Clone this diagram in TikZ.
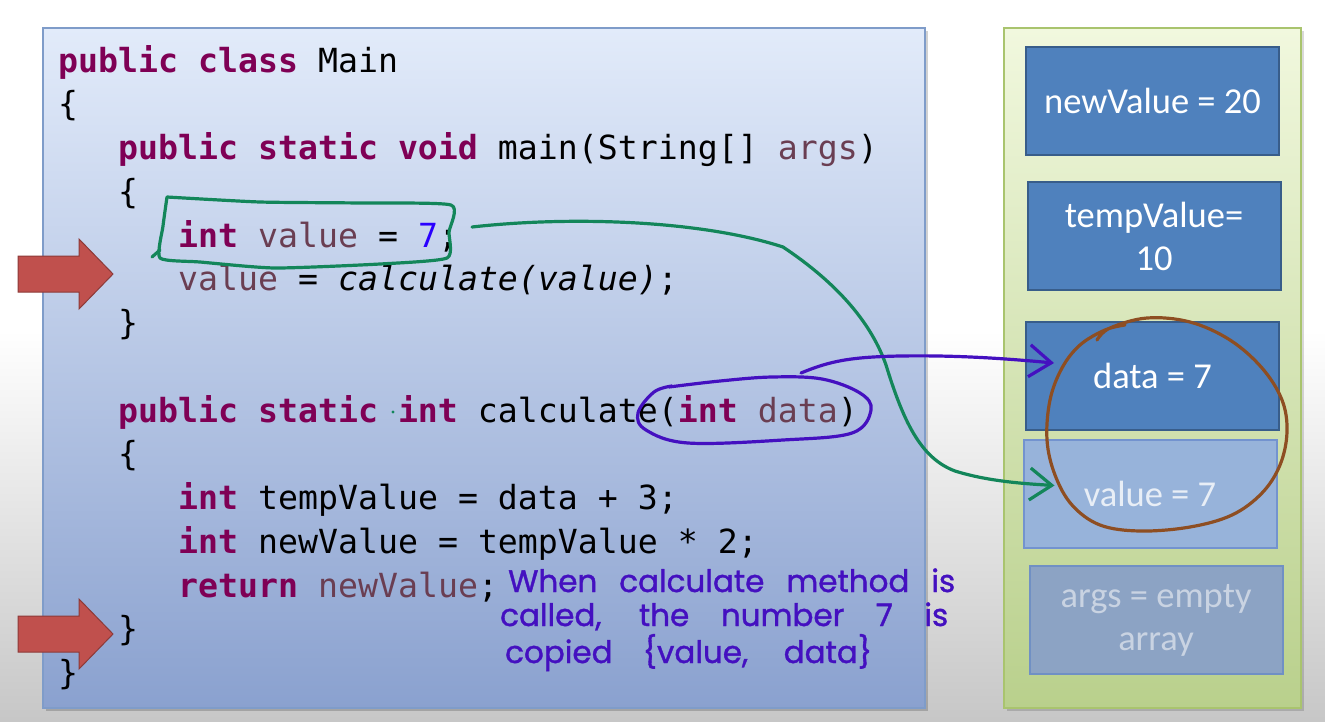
\documentclass[tikz,border=0pt]{standalone}
\usepackage{fontspec}
\setmonofont{DejaVu Sans Mono}
\newfontfamily\boxfont{Carlito}
\newfontfamily\handfont[FakeBold=1.2]{Poppins}
\usetikzlibrary{arrows.meta,calc}

\definecolor{kwc}{HTML}{7F0055}
\definecolor{varc}{HTML}{6A3E52}
\definecolor{numc}{HTML}{2A00FF}
\definecolor{penGreen}{HTML}{13865A}
\definecolor{penPurple}{HTML}{4410C0}
\definecolor{penBrown}{HTML}{8E4E22}
\definecolor{blockRed}{HTML}{C0504D}
\definecolor{blockRedEdge}{HTML}{8C3A38}
\definecolor{panelTop}{HTML}{E2EBFA}
\definecolor{panelMid}{HTML}{BDCEF0}
\definecolor{panelBot}{HTML}{8AA1CF}
\definecolor{panelEdge}{HTML}{7F9CC9}
\definecolor{stackTop}{HTML}{F1F8DE}
\definecolor{stackBot}{HTML}{B9D08C}
\definecolor{stackEdge}{HTML}{A9C46E}
\definecolor{frameFill}{HTML}{4F81BD}
\definecolor{frameEdge}{HTML}{385D8A}
\definecolor{lightFill}{HTML}{97B3DA}
\definecolor{lightEdge}{HTML}{7393CF}
\definecolor{lightText}{HTML}{E8EEF6}
\definecolor{dimFill}{HTML}{8CA3C4}
\definecolor{dimEdge}{HTML}{7090C4}
\definecolor{dimText}{HTML}{C9D3E2}

\newcommand{\kwd}[1]{\textcolor{kwc}{\textbf{#1}}}
\newcommand{\lvar}[1]{\textcolor{varc}{#1}}

\tikzset{
  codeline/.style={anchor=base west, inner sep=0pt,
    font=\ttfamily\fontsize{33.2}{40}\selectfont},
  framebox/.style={draw=frameEdge, line width=2pt, fill=frameFill,
    minimum width=253pt, minimum height=108pt, inner sep=0pt, align=center,
    text=white, font=\boxfont\fontsize{36.5}{43}\selectfont},
  blockarrow/.style={fill=blockRed, draw=blockRedEdge, line width=1pt, line join=miter},
  penline/.style={line width=3.2pt, line cap=round, line join=round},
  pentip/.style={-{Straight Barb[length=22pt,width=32pt,line width=3.2pt]}},
  handtext/.style={anchor=base west, inner sep=0pt, text=penPurple,
    font=\handfont\fontsize{31}{36}\selectfont}
}

\begin{document}
\begin{tikzpicture}[x=1pt,y=-1pt]
\useasboundingbox (0,0) rectangle (1325,721);

% page background: white, fading to grey towards the bottom
\fill[white] (0,0) rectangle (1325,721);
\node[inner sep=0pt, minimum width=1325pt, minimum height=391pt,
      top color=white, bottom color=black!22] (bg) at (662.5,525.5) {};

% code panel and stack panel with soft shadows
\fill[black, opacity=0.18] (46,31) rectangle (928,711);
\node[draw=panelEdge, line width=1.5pt, inner sep=0pt,
      minimum width=882pt, minimum height=680pt,
      top color=panelTop, middle color=panelMid, bottom color=panelBot] (code) at (484,368) {};
\fill[black, opacity=0.15] (1007,31) rectangle (1304,711);
\node[draw=stackEdge, line width=1.2pt, inner sep=0pt,
      minimum width=297pt, minimum height=680pt,
      top color=stackTop, bottom color=stackBot] (stack) at (1152.5,368) {};

% source code
\node[codeline] (l1)  at (58,72)    {\kwd{public class} Main};
\node[codeline] (l2)  at (58,115.8) {\{};
\node[codeline] (l3)  at (118,159.5) {\kwd{public static void} main(String[] \lvar{args})};
\node[codeline] (l4)  at (118,203.3) {\{};
\node[codeline] (l5)  at (178,247)  {\kwd{int} \lvar{value} = \textcolor{numc}{7};};
\node[codeline] (l6)  at (178,290.8) {\lvar{value} = \textit{calculate(value)};};
\node[codeline] (l7)  at (118,334.5) {\}};
\node[codeline] (l9)  at (118,422)  {\kwd{public static int} calculate(\kwd{int} \lvar{data})};
\node[codeline] (l10) at (118,465.8) {\{};
\node[codeline] (l11) at (178,509.5) {\kwd{int} tempValue = data + 3;};
\node[codeline] (l12) at (178,553.3) {\kwd{int} newValue = tempValue * 2;};
\node[codeline] (l13) at (178,597)  {\kwd{return} \lvar{newValue};};
\node[codeline] (l14) at (118,640.8) {\}};
\node[codeline] (l15) at (58,684.5) {\}};

% execution pointers
\draw[blockarrow] (18,256) -- (79,256) -- (79,239) -- (113,274) -- (79,309) -- (79,292) -- (18,292) -- cycle;
\draw[blockarrow] (18,616) -- (79,616) -- (79,599) -- (113,634) -- (79,669) -- (79,652) -- (18,652) -- cycle;

% stack frames
\node[framebox] (nv) at (1152.5,101) {newValue = 20};
\node[framebox] (tv) at (1154,236) {tempValue=\\10};
\node[framebox] (dt) at (1152.5,376) {data = 7};
\node[framebox, fill=lightFill, draw=lightEdge, text=lightText] (vl) at (1150,493.5) {value = 7};
\node[framebox, fill=dimFill, draw=dimEdge, text=dimText] (ag) at (1156,620) {args = empty\\array};

% pen marks: box around the declaration
\draw[penline, penGreen] plot[smooth, tension=0.35] coordinates {
  (167,197) (260,202) (360,203) (451,205) (449,232) (447,258)
  (380,264) (275,268) (200,262) (160,258) (163,226) (167,197)};
\draw[penline, penGreen] (152,257) -- (160,250);
\fill[penGreen] (393,412) circle (1.6);

% pen marks: ellipse around the parameter
\draw[penline, penPurple] plot[smooth, tension=0.6] coordinates {
  (669,387) (720,381) (772,377) (822,379) (860,393) (871,410)
  (852,433) (783,440) (688,443) (646,430) (638,413) (654,392) (672,386)};

% pen marks: circle around the two copies
\draw[penline, penBrown] plot[smooth, tension=0.6] coordinates {
  (1097,340) (1110,328) (1147,318) (1190,322) (1230,340) (1262,368)
  (1282,400) (1287,432) (1280,465) (1262,493) (1232,515) (1190,527)
  (1140,531) (1100,525) (1072,505) (1055,475) (1047,440) (1050,400)
  (1062,368) (1080,345) (1105,330) (1125,325)};

% connectors from the code to the stack frames
\coordinate (gs) at (472,227);
\draw[penline, pentip, penGreen] (gs)
  .. controls (570,216) and (700,220) .. (783,247)
  .. controls (840,285) and (872,325) .. (886,365)
  .. controls (903,420) and (920,458) .. (955,471)
  .. controls (990,482) and (1030,484) .. ($(vl.west)+(32,-8)$);
\coordinate (ps) at (801,373);
\draw[penline, pentip, penPurple] (ps)
  .. controls (830,361) and (850,357) .. (900,356)
  .. controls (960,355) and (1010,359) .. ($(dt.west)+(29,-13)$);

% handwritten note
\node[handtext] (n1) at (508,592) {\makebox[447pt][s]{When calculate method is}};
\node[handtext] (n2) at (500,626) {\makebox[448pt][s]{called, the number 7 is}};
\node[handtext] (n3) at (505,663) {\makebox[367pt][s]{copied \{value, data\}}};
\end{tikzpicture}
\end{document}
